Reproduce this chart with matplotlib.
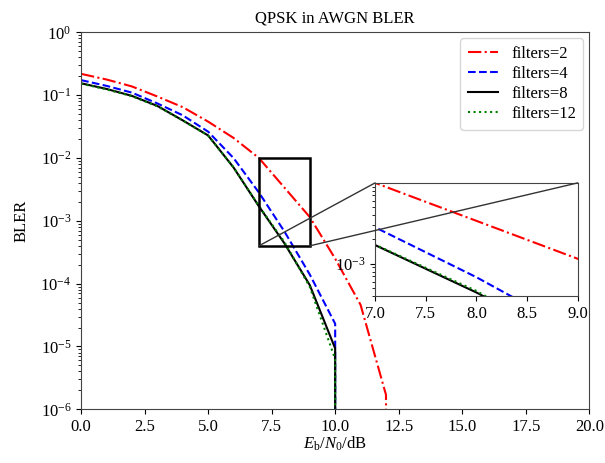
"""
QPSK in AWGN BLER curves for different filter counts, with zoomed inset.
Saves out.png (605x463).
"""

import matplotlib.pyplot as plt
import numpy as np
from matplotlib.patches import ConnectionPatch, Rectangle
from matplotlib.ticker import LogLocator, NullFormatter

plt.rcParams["font.family"] = ["Liberation Serif", "DejaVu Serif"]
plt.rcParams["mathtext.fontset"] = "custom"
plt.rcParams["mathtext.rm"] = "Liberation Serif"
plt.rcParams["mathtext.it"] = "Liberation Serif:italic"
plt.rcParams["mathtext.bf"] = "Liberation Serif:bold"
plt.rcParams["font.size"] = 12

# Eb/N0 in dB
snr = np.arange(0, 14)
snr_short = np.arange(0, 12)

bler_f2 = [0.219, 0.178, 0.138, 0.0955, 0.0646, 0.038, 0.0209, 0.0100,
           0.00339, 0.00115, 2.5e-4, 4.6e-5, 1.7e-6, 0.0]
bler_f4 = [0.174, 0.141, 0.110, 0.0741, 0.0479, 0.0263, 0.0100, 0.00282,
           6.8e-4, 1.4e-4, 2.3e-5, 0.0]
bler_f8 = [0.155, 0.126, 0.0977, 0.0676, 0.0398, 0.0229, 0.00708, 0.0017,
           4.4e-4, 9.5e-5, 9.3e-6, 0.0]
bler_f12 = [0.153, 0.124, 0.0966, 0.0668, 0.0396, 0.0228, 0.0071, 0.00172,
            4.6e-4, 8.9e-5, 6.3e-6, 0.0]

labels = ["filters=2", "filters=4", "filters=8", "filters=12"]

# zoom window
zx0, zx1 = 7.0, 9.0
zy0, zy1 = 4e-4, 1e-2


def draw_curves(ax):
    ax.plot(snr, bler_f2, color="red", linestyle="-.", lw=1.5, label=labels[0])
    ax.plot(snr_short, bler_f4, color="blue", linestyle="--", lw=1.5, label=labels[1])
    ax.plot(snr_short, bler_f8, color="black", linestyle="-", lw=1.5, label=labels[2])
    ax.plot(snr_short, bler_f12, color="green", linestyle=":", lw=1.5, label=labels[3])


fig = plt.figure(figsize=(6.05, 4.63), dpi=100)
ax = fig.add_axes([0.134, 0.116, 0.840, 0.814])
draw_curves(ax)
ax.set_yscale("log")
ax.set_xlim(0, 20)
ax.set_ylim(1e-6, 1)
ax.set_xticks(np.arange(0, 20.1, 2.5))
ax.set_title("QPSK in AWGN BLER", fontsize=12, pad=7)
ax.set_xlabel(r"$E_\mathrm{b}/N_\mathrm{0}$/dB", labelpad=0)
ax.set_ylabel("BLER", labelpad=8)
for s in ax.spines.values():
    s.set_color("#444444")
ax.legend(loc="upper right", handlelength=1.8, handletextpad=0.8,
          borderpad=0.45, labelspacing=0.25, borderaxespad=0.35, fontsize=12)

ax.add_patch(Rectangle((zx0, zy0), zx1 - zx0, zy1 - zy0, fill=False,
                       ec="black", lw=1.8, zorder=5))

axins = fig.add_axes([0.620, 0.361, 0.335, 0.244])
draw_curves(axins)
axins.set_yscale("log")
axins.set_xlim(zx0, zx1)
axins.set_ylim(zy0, zy1)
axins.set_xticks(np.arange(7.0, 9.01, 0.5))
axins.set_yticks([1e-3])
axins.yaxis.set_minor_locator(LogLocator(base=10, subs=np.arange(2, 10)))
axins.yaxis.set_minor_formatter(NullFormatter())
axins.tick_params(labelsize=12)
for s in axins.spines.values():
    s.set_color("#444444")

for xa, xb in [((zx0, zy0), (0, 1)), ((zx1, zy0), (1, 1))]:
    con = ConnectionPatch(xyA=xa, coordsA=ax.transData, xyB=xb,
                          coordsB=axins.transAxes, color="#333333", lw=1.0)
    fig.add_artist(con)

fig.savefig("out.png", dpi=100)
